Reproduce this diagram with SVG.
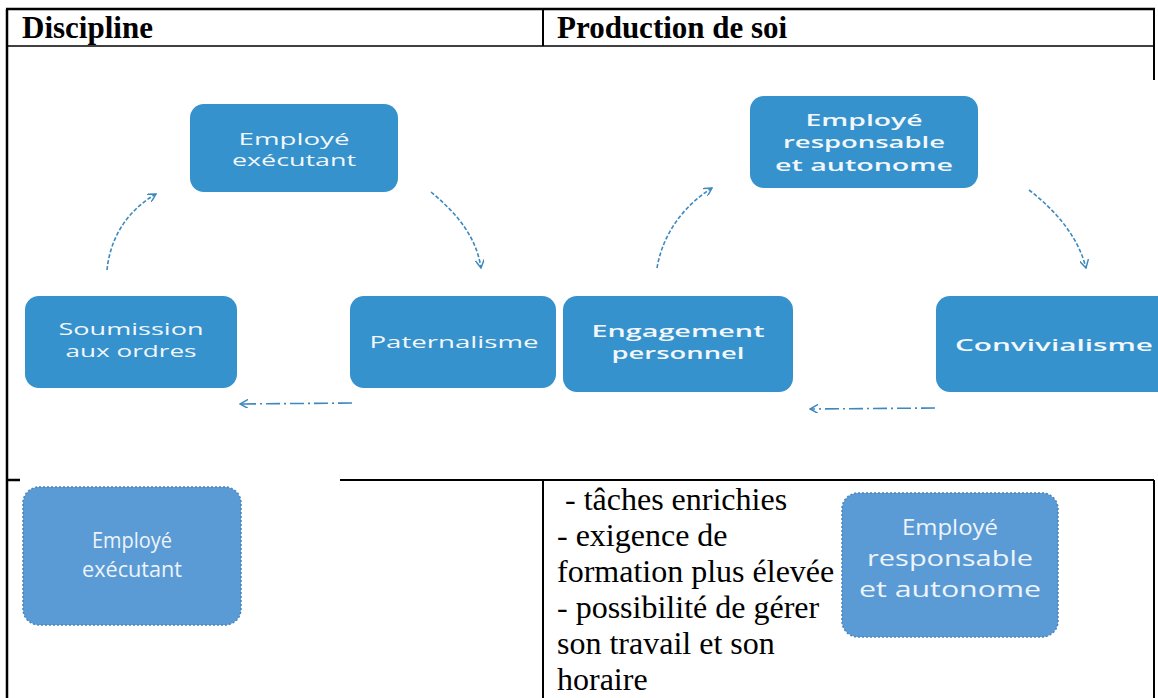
<svg xmlns="http://www.w3.org/2000/svg" width="1158" height="698" viewBox="0 0 1158 698">
<defs>
<style>
.bd{stroke:#000;fill:none}
.hd{font-family:"Liberation Serif","Times New Roman",serif;font-weight:bold;font-size:31px;fill:#000}
.tx{font-family:"Liberation Serif","Times New Roman",serif;font-size:32px;fill:#000}
.bx{fill:#3592cc}
.bx2{fill:#5b9bd5;stroke:#4a84bd;stroke-width:1.5;stroke-dasharray:2 2}
.bt{font-family:"Open Sans","Noto Sans",sans-serif;font-size:17px;fill:#f2f7fb;text-anchor:middle}
.bt2{font-family:"Open Sans","Noto Sans",sans-serif;font-size:21px;fill:#eef4fb;text-anchor:middle}
.sb{font-weight:600}
.ar{fill:none;stroke:#3d88bd;stroke-width:1.6;stroke-dasharray:4 2}
.da{fill:none;stroke:#3d88bd;stroke-width:1.6;stroke-dasharray:14 4 2 4}
</style>
<marker id="ah" viewBox="0 0 10 10" refX="9" refY="5" markerWidth="9" markerHeight="9" markerUnits="userSpaceOnUse" orient="auto">
<path d="M0,0 L9,5 L0,10" fill="none" stroke="#3d88bd" stroke-width="1.6"/>
</marker>
</defs>
<rect width="1158" height="698" fill="#fff"/>
<g id="table">
<line class="bd" x1="6" y1="9" x2="1155" y2="9" stroke-width="2.5"/>
<line class="bd" x1="7" y1="9" x2="7" y2="698" stroke-width="2.5"/>
<line class="bd" x1="1154" y1="9" x2="1154" y2="80" stroke-width="2"/>
<line class="bd" x1="7" y1="46" x2="1154" y2="46" stroke-width="1.5"/>
<line class="bd" x1="543" y1="9" x2="543" y2="46" stroke-width="2"/>
<line class="bd" x1="7" y1="480" x2="20" y2="480" stroke-width="2.5"/>
<line class="bd" x1="340" y1="480" x2="1154" y2="480" stroke-width="2"/>
<line class="bd" x1="543" y1="480" x2="543" y2="698" stroke-width="2"/>
<line class="bd" x1="1154" y1="480" x2="1154" y2="698" stroke-width="2"/>
<text class="hd" x="22" y="38">Discipline</text>
<text class="hd" x="557" y="38">Production de soi</text>
</g>
<g id="n-employe-executant">
<rect class="bx" x="190" y="104" width="208" height="88" rx="14"/>
<text class="bt" x="294" y="145" textLength="111" lengthAdjust="spacingAndGlyphs">Employé</text>
<text class="bt" x="294" y="166" textLength="124" lengthAdjust="spacingAndGlyphs">exécutant</text>
</g>
<g id="n-soumission">
<rect class="bx" x="25" y="296" width="212" height="92" rx="14"/>
<text class="bt" x="131" y="335" textLength="145" lengthAdjust="spacingAndGlyphs">Soumission</text>
<text class="bt" x="131" y="357" textLength="131" lengthAdjust="spacingAndGlyphs">aux ordres</text>
</g>
<g id="n-paternalisme">
<rect class="bx" x="350" y="296" width="206" height="92" rx="14"/>
<text class="bt" x="454" y="348" textLength="169" lengthAdjust="spacingAndGlyphs">Paternalisme</text>
</g>
<g id="n-employe-responsable">
<rect class="bx" x="750" y="96" width="228" height="92" rx="14"/>
<text class="bt sb" x="864" y="126" textLength="117" lengthAdjust="spacingAndGlyphs">Employé</text>
<text class="bt sb" x="864" y="148" textLength="162" lengthAdjust="spacingAndGlyphs">responsable</text>
<text class="bt sb" x="864" y="171" textLength="178" lengthAdjust="spacingAndGlyphs">et autonome</text>
</g>
<g id="n-engagement">
<rect class="bx" x="563" y="296" width="230" height="96" rx="14"/>
<text class="bt sb" x="678" y="337" textLength="173" lengthAdjust="spacingAndGlyphs">Engagement</text>
<text class="bt sb" x="678" y="359" textLength="133" lengthAdjust="spacingAndGlyphs">personnel</text>
</g>
<g id="n-convivialisme">
<rect class="bx" x="936" y="296" width="240" height="96" rx="14"/>
<text class="bt sb" x="1054" y="351" textLength="198" lengthAdjust="spacingAndGlyphs">Convivialisme</text>
</g>
<g id="connectors">
<path class="ar" d="M107,270 C110,240 125,212 156,194" marker-end="url(#ah)"/>
<path class="ar" d="M431,192 C455,212 476,235 481,268" marker-end="url(#ah)"/>
<path class="da" d="M352,403 L240,404" marker-end="url(#ah)"/>
<path class="ar" d="M657,268 C662,238 680,208 712,188" marker-end="url(#ah)"/>
<path class="ar" d="M1029,190 C1055,210 1078,236 1086,268" marker-end="url(#ah)"/>
<path class="da" d="M935,408 L810,409" marker-end="url(#ah)"/>
</g>
<g id="n-bottom-executant">
<rect class="bx2" x="23" y="487" width="218" height="138" rx="16"/>
<text class="bt2" x="132" y="548" textLength="80" lengthAdjust="spacingAndGlyphs">Employé</text>
<text class="bt2" x="132" y="577" textLength="100" lengthAdjust="spacingAndGlyphs">exécutant</text>
</g>
<g id="n-bottom-responsable">
<rect class="bx2" x="842" y="493" width="216" height="144" rx="16"/>
<text class="bt2" x="950" y="535" textLength="96" lengthAdjust="spacingAndGlyphs">Employé</text>
<text class="bt2" x="950" y="566" textLength="166" lengthAdjust="spacingAndGlyphs">responsable</text>
<text class="bt2" x="950" y="597" textLength="182" lengthAdjust="spacingAndGlyphs">et autonome</text>
</g>
<g id="list">
<text class="tx" x="557" y="510" xml:space="preserve"> - tâches enrichies</text>
<text class="tx" x="557" y="546">- exigence de</text>
<text class="tx" x="557" y="582">formation plus élevée</text>
<text class="tx" x="557" y="618">- possibilité de gérer</text>
<text class="tx" x="557" y="654">son travail et son</text>
<text class="tx" x="557" y="690">horaire</text>
</g>
</svg>
